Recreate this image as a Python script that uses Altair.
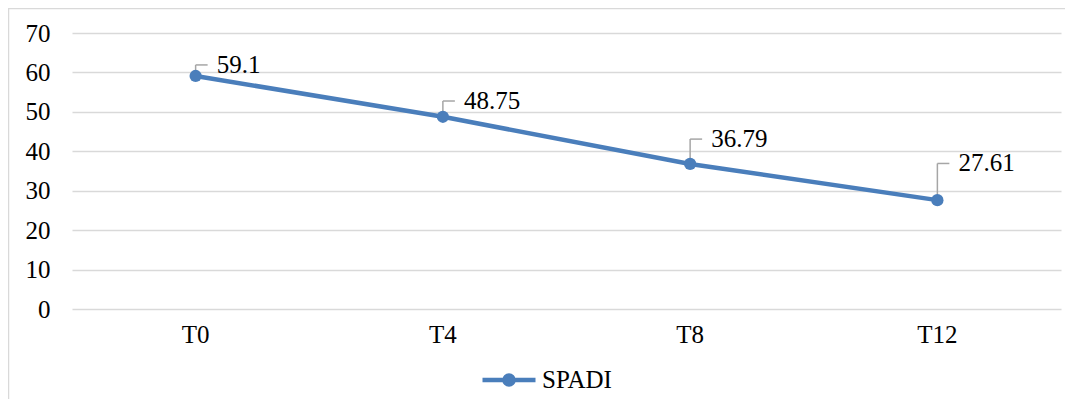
import altair as alt
import pandas as pd

# ---- data ----
categories = ["T0", "T4", "T8", "T12"]
spadi = [59.1, 48.75, 36.79, 27.61]
series_name = "SPADI"
y_ticks = [0, 10, 20, 30, 40, 50, 60, 70]

# label leader lift (in data units) - layout only
label_lift = [2.8, 4.0, 6.3, 9.3]

df = pd.DataFrame({
    "time": categories,
    "value": spadi,
    "series": [series_name] * len(categories),
    "lift": label_lift,
    "label": ["59.1", "48.75", "36.79", "27.61"],
})

BLUE = "#4a7ebb"
GRID = "#d9d9d9"
FONT = "Liberation Serif"
FS = 25

y_scale = alt.Scale(domain=[0, 70], nice=False)
y_axis = alt.Axis(title=None, values=y_ticks, tickCount=8, labelOverlap=False,
                  ticks=False, domain=False, grid=True, gridColor=GRID,
                  gridWidth=1.5, labelFont=FONT, labelFontSize=FS,
                  labelColor="#000000", labelPadding=22)
x_axis = alt.Axis(title=None, labelAngle=0, ticks=False, domain=False,
                  grid=False, labelFont=FONT, labelFontSize=FS,
                  labelColor="#000000", labelPadding=13)
x_scale = alt.Scale(paddingInner=0, paddingOuter=0)

def X():
    return alt.X("time:N", sort=categories, scale=x_scale, axis=x_axis)

base = alt.Chart(df)

line = base.mark_line(strokeWidth=4.5).encode(
    x=X(),
    y=alt.Y("value:Q", scale=y_scale, axis=y_axis),
    color=alt.Color("series:N",
                    scale=alt.Scale(domain=[series_name], range=[BLUE]),
                    legend=alt.Legend(
                        title=None, orient="none", legendX=408, legendY=318,
                        padding=0,
                        symbolType="M-1,0H1M-0.17,0A0.17,0.17 0 1,0 0.17,0A0.17,0.17 0 1,0 -0.17,0Z",
                        symbolSize=2809, symbolStrokeWidth=4.5,
                        symbolFillColor=BLUE, symbolStrokeColor=BLUE,
                        labelFont=FONT, labelFontSize=FS, labelColor="#000000",
                        labelOffset=4)),
)

points = base.mark_point(filled=True, size=150, opacity=1).encode(
    x=X(),
    y=alt.Y("value:Q", scale=y_scale, axis=y_axis),
    color=alt.Color("series:N", scale=alt.Scale(domain=[series_name], range=[BLUE]), legend=None),
)

leader_v = base.transform_calculate(ly="datum.value + datum.lift").mark_rule(
    color="#a6a6a6", strokeWidth=1.5, yOffset=-5, y2Offset=0
).encode(
    x=X(),
    y=alt.Y("value:Q", scale=y_scale, axis=y_axis),
    y2="ly:Q",
)

leader_h = base.transform_calculate(ly="datum.value + datum.lift").mark_rule(
    color="#a6a6a6", strokeWidth=1.5, x2Offset=12
).encode(
    x=X(),
    x2="time:N",
    y=alt.Y("ly:Q", scale=y_scale, axis=y_axis),
)

labels = base.transform_calculate(ly="datum.value + datum.lift").mark_text(
    align="left", baseline="middle", dx=21, font=FONT, fontSize=FS, color="#000000"
).encode(
    x=X(),
    y=alt.Y("ly:Q", scale=y_scale, axis=y_axis),
    text="label:N",
)

border = alt.Chart(pd.DataFrame({"a": [0]})).mark_rect(
    fill=None, stroke=GRID, strokeWidth=1.5
).encode(
    x=alt.value(-63.5), x2=alt.value(1100),
    y=alt.value(-24.5), y2=alt.value(500),
)

chart = alt.layer(border, line, leader_v, leader_h, points, labels).properties(
    width=989, height=276,
    autosize=alt.AutoSizeParams(type="none"),
    padding={"left": 64, "top": 25, "right": 4, "bottom": 90},
).configure_view(stroke=None)

chart.save("out.html", embed_options={"renderer": "svg", "actions": False})
